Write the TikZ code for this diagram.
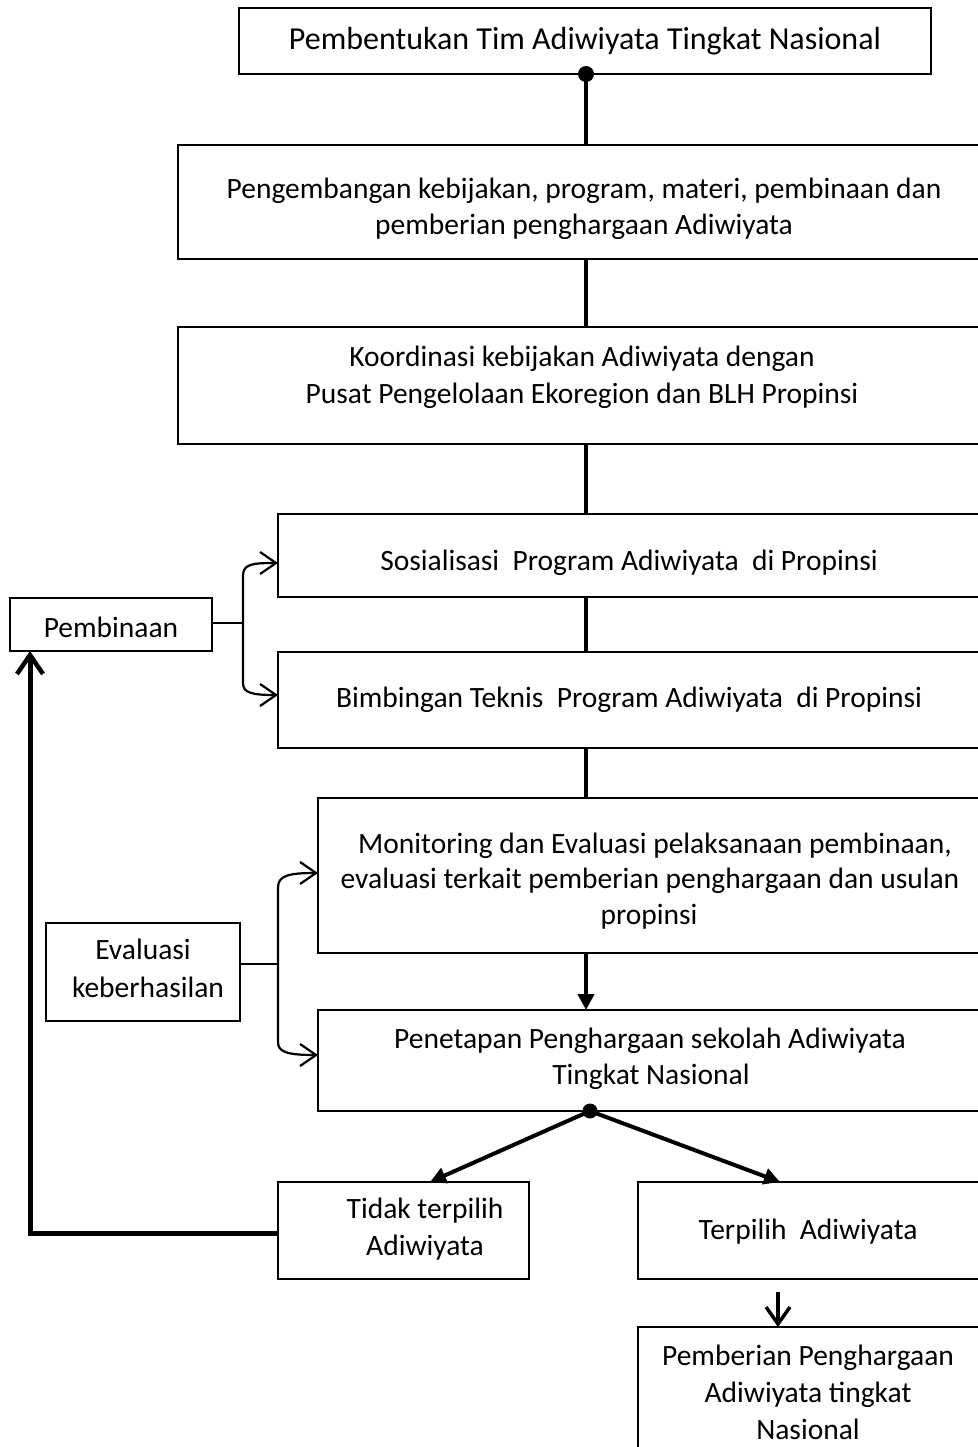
\documentclass[tikz,border=0pt]{standalone}
\usepackage{fontspec}
\setmainfont{Carlito}
\usetikzlibrary{arrows.meta}
\tikzset{
  box/.style={draw, line width=1.7pt, inner sep=0pt, outer sep=0pt},
  txt/.style={anchor=base, inner sep=0pt, font=\fontsize{29.5}{36}\selectfont},
  bigtxt/.style={txt, font=\fontsize{32}{39}\selectfont},
  spine/.style={line width=4.5pt},
  brace/.style={line width=2.2pt, -{Straight Barb[length=16pt,width=22pt,line width=2.2pt]}},
  fillarrow/.style={line width=4pt, -{Triangle[length=16pt,width=16pt]}},
  openarrow/.style={line width=4pt, -{Straight Barb[length=17pt,width=24pt,line width=3.5pt]}},
  feedback/.style={line width=5pt, -{Straight Barb[length=19pt,width=26pt,line width=4.5pt]}},
  dot/.style={circle, fill=black, inner sep=0pt, minimum size=16pt}
}
\begin{document}
\begin{tikzpicture}[x=1pt,y=-1pt]
\useasboundingbox (0,0) rectangle (977,1447);
% boxes
\node[box, minimum width=692pt, minimum height=66pt] (b1) at (585,41) {};
\node[box, minimum width=801pt, minimum height=114pt] (b2) at (578.5,202) {};
\node[box, minimum width=801pt, minimum height=117pt] (b3) at (578.5,385.5) {};
\node[box, minimum width=701pt, minimum height=83pt] (b4) at (628.5,555.5) {};
\node[box, minimum width=701pt, minimum height=96pt] (b5) at (628.5,700) {};
\node[box, minimum width=661pt, minimum height=155pt] (b6) at (648.5,875.5) {};
\node[box, minimum width=661pt, minimum height=101pt] (b7) at (648.5,1060.5) {};
\node[box, minimum width=251pt, minimum height=97pt] (tidak) at (403.5,1230.5) {};
\node[box, minimum width=341pt, minimum height=97pt] (terp) at (808.5,1230.5) {};
\node[box, minimum width=341pt, minimum height=122pt] (award) at (808.5,1388) {};
\node[box, minimum width=202pt, minimum height=53pt] (pemb) at (111,624.5) {};
\node[box, minimum width=194pt, minimum height=98pt] (eval) at (143,972) {};
% texts
\node[bigtxt] (t1) at (585,50) {Pembentukan Tim Adiwiyata Tingkat Nasional};
\node[txt] (t2a) at (584,199) {Pengembangan kebijakan, program, materi, pembinaan dan};
\node[txt] (t2b) at (584,235) {pemberian penghargaan Adiwiyata};
\node[txt] (t3a) at (582,366) {Koordinasi kebijakan Adiwiyata dengan};
\node[txt] (t3b) at (582,403) {Pusat Pengelolaan Ekoregion dan BLH Propinsi};
\node[txt] (t4) at (629,570) {Sosialisasi\ \ Program Adiwiyata\ \ di Propinsi};
\node[txt] (t5) at (629,707) {Bimbingan Teknis\ \ Program Adiwiyata\ \ di Propinsi};
\node[txt] (t6a) at (655,853) {Monitoring dan Evaluasi pelaksanaan pembinaan,};
\node[txt] (t6b) at (650,888) {evaluasi terkait pemberian penghargaan dan usulan};
\node[txt] (t6c) at (649,924) {propinsi};
\node[txt] (t7a) at (650,1048) {Penetapan Penghargaan sekolah Adiwiyata};
\node[txt] (t7b) at (651,1084) {Tingkat Nasional};
\node[txt] (t8a) at (425,1218) {Tidak terpilih};
\node[txt] (t8b) at (425,1255) {Adiwiyata};
\node[txt] (t9) at (808,1239) {Terpilih\ \ Adiwiyata};
\node[txt] (t10a) at (808,1365) {Pemberian Penghargaan};
\node[txt] (t10b) at (808,1402) {Adiwiyata tingkat};
\node[txt] (t10c) at (808,1439) {Nasional};
\node[txt] (t11) at (111,637) {Pembinaan};
\node[txt] (t12a) at (143,959) {Evaluasi};
\node[txt] (t12b) at (148,997) {keberhasilan};
% spine
\coordinate (sp) at (586,0);
\node[dot] (d1) at (sp |- b1.south) {};
\draw[spine] (d1.center) -- (sp |- b2.north);
\draw[spine] (sp |- b2.south) -- (sp |- b3.north);
\draw[spine] (sp |- b3.south) -- (sp |- b4.north);
\draw[spine] (sp |- b4.south) -- (sp |- b5.north);
\draw[spine] (sp |- b5.south) -- (sp |- b6.north);
\draw[fillarrow] (sp |- b6.south) -- (sp |- b7.north);
% split
\node[dot, minimum size=15pt] (d2) at (590,1111) {};
\coordinate (tidaktip) at (430,1182);
\coordinate (terptip) at (780,1182);
\draw[fillarrow] (d2.center) -- (tidaktip);
\draw[fillarrow] (d2.center) -- (terptip);
% terpilih -> award
\coordinate (a0) at (778,1292);
\draw[openarrow] (a0) -- (a0 |- award.north);
% feedback
\coordinate (fb) at (30,1233);
\draw[line width=5pt] (tidak.west |- fb) -- (fb);
\draw[feedback] ([yshift=-2.5pt]fb) -- (fb |- pemb.south);
% pembinaan brace
\coordinate (pj) at (243,623);
\draw[line width=2.2pt] (pemb.east |- pj) -- (pj);
\draw[brace] (pj) -- (243,576) .. controls (243,564) and (252,563) .. (b4.west |- 0,563);
\draw[brace] (pj) -- (243,683) .. controls (243,693) and (252,695) .. (b5.west |- 0,695);
% evaluasi brace
\coordinate (ej) at (278,964);
\draw[line width=2.2pt] (eval.east |- ej) -- (ej);
\draw[brace] (ej) -- (278,888) .. controls (278,876) and (287,873) .. (b6.west |- 0,873);
\draw[brace] (ej) -- (278,1042) .. controls (278,1052) and (287,1055) .. (b7.west |- 0,1055);
\end{tikzpicture}
\end{document}
